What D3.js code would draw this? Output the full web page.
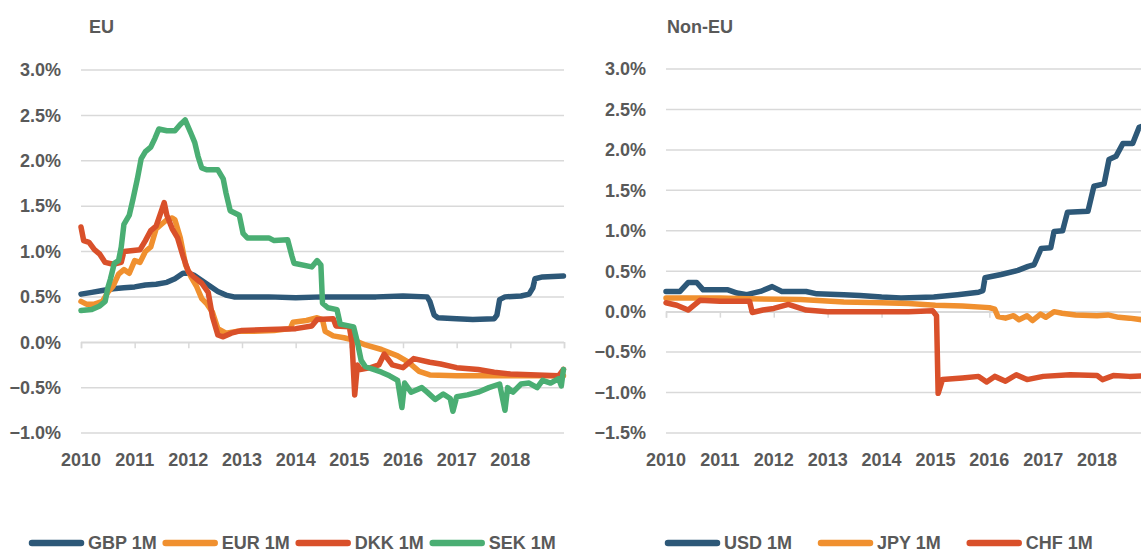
<!DOCTYPE html>
<html>
<head>
<meta charset="utf-8">
<script src="https://cdn.jsdelivr.net/npm/d3@7"></script>
<style>
  body { margin: 0; background: #fff; }
  text { font-family: "Liberation Sans", Arial, sans-serif; font-weight: bold; fill: #595959; }
</style>
</head>
<body>
<svg id="chart" width="1141" height="554"></svg>
<script>
// tick labels
const years = [2010, 2011, 2012, 2013, 2014, 2015, 2016, 2017, 2018];
const euTicks = [-1.0, -0.5, 0.0, 0.5, 1.0, 1.5, 2.0, 2.5, 3.0];
const nonEuTicks = [-1.5, -1.0, -0.5, 0.0, 0.5, 1.0, 1.5, 2.0, 2.5, 3.0];

// series values: [decimal year, rate in %]
const gbp = [[2010.0,0.53],[2010.2,0.55],[2010.4,0.57],[2010.6,0.59],[2010.8,0.6],[2011.0,0.61],[2011.2,0.63],
  [2011.4,0.64],[2011.6,0.66],[2011.75,0.7],[2011.9,0.76],[2012.0,0.76],[2012.1,0.74],[2012.25,0.68],[2012.4,0.62],
  [2012.55,0.56],[2012.7,0.52],[2012.85,0.5],[2013.0,0.5],[2013.5,0.5],[2014.0,0.49],[2014.5,0.5],[2015.0,0.5],
  [2015.5,0.5],[2016.0,0.51],[2016.45,0.5],[2016.5,0.45],[2016.58,0.3],[2016.65,0.27],[2017.0,0.26],[2017.3,0.25],
  [2017.7,0.26],[2017.75,0.3],[2017.8,0.47],[2017.9,0.5],[2018.2,0.51],[2018.35,0.53],[2018.42,0.6],[2018.46,0.7],
  [2018.6,0.72],[2018.99,0.73]];
const eur = [[2010.0,0.45],[2010.1,0.42],[2010.25,0.42],[2010.4,0.45],[2010.5,0.55],[2010.6,0.62],[2010.7,0.75],
  [2010.8,0.8],[2010.9,0.76],[2011.0,0.9],[2011.1,0.88],[2011.2,1.0],[2011.3,1.05],[2011.4,1.25],[2011.5,1.3],
  [2011.6,1.35],[2011.7,1.37],[2011.75,1.35],[2011.85,1.15],[2011.95,0.85],[2012.05,0.72],[2012.15,0.62],
  [2012.25,0.48],[2012.35,0.42],[2012.45,0.33],[2012.55,0.15],[2012.7,0.1],[2012.9,0.12],[2013.2,0.12],
  [2013.6,0.13],[2013.9,0.15],[2013.95,0.22],[2014.2,0.24],[2014.4,0.27],[2014.5,0.25],[2014.55,0.12],
  [2014.7,0.07],[2014.9,0.05],[2015.1,0.02],[2015.3,-0.03],[2015.6,-0.08],[2015.9,-0.15],[2016.1,-0.22],
  [2016.3,-0.32],[2016.5,-0.36],[2017.0,-0.37],[2018.0,-0.37],[2018.99,-0.37]];
const dkk = [[2010.0,1.27],[2010.05,1.12],[2010.15,1.1],[2010.25,1.02],[2010.35,0.97],[2010.45,0.88],[2010.6,0.86],
  [2010.75,0.88],[2010.8,1.0],[2011.1,1.02],[2011.2,1.12],[2011.3,1.23],[2011.4,1.28],[2011.5,1.45],[2011.55,1.54],
  [2011.6,1.4],[2011.7,1.25],[2011.8,1.15],[2011.9,0.95],[2012.0,0.78],[2012.1,0.72],[2012.25,0.65],[2012.37,0.55],
  [2012.45,0.28],[2012.55,0.08],[2012.65,0.06],[2012.8,0.1],[2013.0,0.13],[2013.5,0.14],[2014.0,0.15],[2014.3,0.18],
  [2014.4,0.25],[2014.7,0.26],[2014.75,0.18],[2015.0,0.17],[2015.05,0.0],[2015.1,-0.58],[2015.15,-0.25],
  [2015.2,-0.3],[2015.4,-0.28],[2015.55,-0.25],[2015.65,-0.13],[2015.8,-0.25],[2016.0,-0.28],[2016.2,-0.18],
  [2016.5,-0.22],[2016.7,-0.24],[2017.0,-0.28],[2017.4,-0.3],[2017.7,-0.33],[2018.0,-0.35],[2018.5,-0.36],
  [2018.9,-0.37],[2018.99,-0.3]];
const sek = [[2010.0,0.35],[2010.2,0.36],[2010.35,0.4],[2010.45,0.45],[2010.5,0.6],[2010.55,0.7],[2010.62,0.87],
  [2010.7,0.9],[2010.75,1.05],[2010.8,1.3],[2010.9,1.4],[2010.97,1.58],[2011.05,1.8],[2011.12,2.02],[2011.2,2.1],
  [2011.3,2.15],[2011.38,2.25],[2011.45,2.35],[2011.6,2.33],[2011.75,2.33],[2011.85,2.4],[2011.94,2.45],
  [2012.05,2.3],[2012.12,2.2],[2012.18,2.05],[2012.25,1.92],[2012.35,1.9],[2012.55,1.9],[2012.65,1.8],
  [2012.7,1.65],[2012.78,1.45],[2012.95,1.4],[2013.02,1.2],[2013.1,1.15],[2013.5,1.15],[2013.6,1.12],
  [2013.85,1.13],[2013.93,0.95],[2013.97,0.87],[2014.3,0.83],[2014.4,0.9],[2014.47,0.85],[2014.5,0.43],
  [2014.6,0.38],[2014.77,0.36],[2014.83,0.2],[2015.08,0.17],[2015.15,0.0],[2015.22,-0.2],[2015.3,-0.27],
  [2015.45,-0.3],[2015.6,-0.33],[2015.75,-0.37],[2015.9,-0.42],[2015.98,-0.72],[2016.03,-0.45],[2016.15,-0.55],
  [2016.35,-0.5],[2016.45,-0.55],[2016.6,-0.63],[2016.75,-0.57],[2016.88,-0.62],[2016.93,-0.76],[2017.0,-0.6],
  [2017.2,-0.58],[2017.4,-0.55],[2017.6,-0.5],[2017.8,-0.46],[2017.9,-0.75],[2017.95,-0.5],[2018.05,-0.55],
  [2018.2,-0.46],[2018.35,-0.45],[2018.5,-0.5],[2018.6,-0.42],[2018.75,-0.45],[2018.9,-0.4],[2018.95,-0.48],
  [2018.99,-0.3]];
const usd = [[2010.0,0.25],[2010.26,0.25],[2010.41,0.36],[2010.57,0.36],[2010.69,0.27],[2011.15,0.27],
  [2011.32,0.23],[2011.5,0.21],[2011.75,0.25],[2011.97,0.31],[2012.15,0.25],[2012.6,0.25],[2012.8,0.22],
  [2013.3,0.21],[2013.6,0.2],[2014.0,0.18],[2014.36,0.17],[2014.97,0.18],[2015.41,0.21],[2015.8,0.24],
  [2015.88,0.26],[2015.92,0.42],[2016.22,0.46],[2016.53,0.51],[2016.72,0.56],[2016.83,0.58],[2016.87,0.64],
  [2016.96,0.78],[2017.14,0.79],[2017.2,0.99],[2017.36,1.0],[2017.45,1.23],[2017.83,1.24],[2017.94,1.55],
  [2018.13,1.58],[2018.22,1.88],[2018.35,1.92],[2018.48,2.08],[2018.66,2.08],[2018.78,2.28],[2018.95,2.32]];
const jpy = [[2010.0,0.17],[2011.0,0.17],[2011.5,0.16],[2012.5,0.15],[2013.3,0.12],[2014.0,0.11],[2014.5,0.1],
  [2015.0,0.08],[2015.5,0.07],[2016.0,0.05],[2016.1,0.03],[2016.16,-0.06],[2016.3,-0.08],[2016.45,-0.05],
  [2016.55,-0.1],[2016.7,-0.05],[2016.8,-0.11],[2016.95,-0.03],[2017.05,-0.07],[2017.2,0.0],[2017.35,-0.02],
  [2017.6,-0.04],[2018.0,-0.05],[2018.2,-0.04],[2018.4,-0.07],[2018.6,-0.08],[2018.95,-0.11]];
const chf = [[2010.0,0.11],[2010.2,0.08],[2010.41,0.02],[2010.63,0.14],[2011.0,0.13],[2011.55,0.13],
  [2011.6,-0.01],[2011.8,0.02],[2012.0,0.04],[2012.27,0.09],[2012.6,0.02],[2013.0,0.0],[2013.5,0.0],
  [2014.0,0.0],[2014.5,0.0],[2014.95,0.01],[2015.02,-0.05],[2015.05,-1.01],[2015.13,-0.84],[2015.5,-0.82],
  [2015.8,-0.8],[2015.95,-0.87],[2016.1,-0.8],[2016.3,-0.86],[2016.5,-0.78],[2016.7,-0.84],[2017.0,-0.8],
  [2017.5,-0.78],[2018.0,-0.79],[2018.1,-0.84],[2018.3,-0.79],[2018.6,-0.8],[2018.95,-0.79]];

const navy = "#2d5878", orange = "#f0902f", red = "#d9502a", green = "#4aae73";

const svg = d3.select("#chart");
svg.append("rect").attr("width", 1141).attr("height", 554).attr("fill", "#fff");

function panel(opt) {
    const x = d3.scaleLinear().domain([2010, 2019]).range(opt.xr);
    const y = d3.scaleLinear().domain(opt.yd).range([433, opt.ytop]);
    const g = svg.append("g");

    // gridlines
    g.selectAll(".grid").data(opt.ticks).join("line")
        .attr("x1", x(2010)).attr("x2", x(2019))
        .attr("y1", d => y(d)).attr("y2", d => y(d))
        .attr("stroke", "#d9d9d9").attr("stroke-width", 1.5);

    // y labels
    g.selectAll(".ylab").data(opt.ticks).join("text")
        .attr("x", opt.labX).attr("y", d => y(d))
        .attr("dy", "0.35em").attr("text-anchor", "end")
        .style("font-size", "18px")
        .text(d => d3.format(".1f")(d) + "%");

    // x axis on the zero line
    const ax = g.append("g").attr("transform", "translate(0," + y(0) + ")")
        .call(d3.axisBottom(x).tickValues(years.concat([2019])).tickSize(6).tickFormat(""));
    ax.select(".domain").attr("stroke", "#d9d9d9").attr("stroke-width", 1.5);
    ax.selectAll(".tick line").attr("stroke", "#d9d9d9").attr("stroke-width", 1.5);

    g.selectAll(".xlab").data(years).join("text")
        .attr("x", d => x(d)).attr("y", 466)
        .attr("text-anchor", "middle")
        .style("font-size", "18px")
        .text(d => d);

    g.append("text").attr("x", opt.titleX).attr("y", 33)
        .style("font-size", "18px").text(opt.title);

    const line = d3.line().x(d => x(d[0])).y(d => y(d[1]));
    opt.series.forEach(s => {
        g.append("path").datum(s.data)
            .attr("d", line)
            .attr("fill", "none")
            .attr("stroke", s.color)
            .attr("stroke-width", 5.5)
            .attr("stroke-linejoin", "round")
            .attr("stroke-linecap", "round");
    });

    // legend
    const ly = 543;
    let lx = opt.legX;
    opt.series.forEach(s => {
        g.append("line")
            .attr("x1", lx + 3).attr("x2", lx + 52)
            .attr("y1", ly).attr("y2", ly)
            .attr("stroke", s.color).attr("stroke-width", 6.5)
            .attr("stroke-linecap", "round");
        const t = g.append("text").attr("x", lx + 59).attr("y", ly)
            .attr("dy", "0.35em").style("font-size", "18px").text(s.name);
        lx += 59 + t.node().getComputedTextLength() + opt.legGap;
    });
}

panel({
    title: "EU", titleX: 89, xr: [81, 564], yd: [-1, 3], ytop: 70, ticks: euTicks, labX: 61,
    legX: 29, legGap: 6,
    series: [
        {name: "GBP 1M", color: navy, data: gbp},
        {name: "EUR 1M", color: orange, data: eur},
        {name: "DKK 1M", color: red, data: dkk},
        {name: "SEK 1M", color: green, data: sek}
    ]
});

panel({
    title: "Non-EU", titleX: 667, xr: [666, 1151], yd: [-1.5, 3], ytop: 69, ticks: nonEuTicks, labX: 646,
    legX: 665, legGap: 26,
    series: [
        {name: "USD 1M", color: navy, data: usd},
        {name: "JPY 1M", color: orange, data: jpy},
        {name: "CHF 1M", color: red, data: chf}
    ]
});
</script>
</body>
</html>
